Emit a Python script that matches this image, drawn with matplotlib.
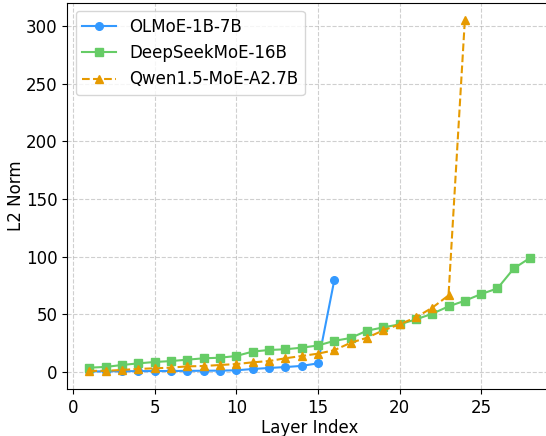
import matplotlib.pyplot as plt

# L2 norm per layer
olmoe_layers = list(range(1, 17))
olmoe_norm = [0.5, 0.6, 0.7, 0.8, 0.8, 0.9, 1.0, 1.1, 1.2, 1.5, 2.6, 3.5, 4.3, 5.3, 7.5, 79.4]

deepseek_layers = list(range(1, 29))
deepseek_norm = [3.8, 4.4, 6.1, 7.5, 8.7, 9.5, 10.7, 11.9, 12.4, 13.9,
                 17.7, 19.1, 19.7, 21.1, 23.0, 27.0, 29.5, 35.8, 38.7, 41.3,
                 45.6, 50.5, 56.9, 61.8, 67.6, 72.5, 89.8, 99.0]

qwen_layers = list(range(1, 25))
qwen_norm = [1.0, 1.0, 1.8, 2.7, 3.2, 3.8, 4.9, 5.2, 6.1, 6.9,
             8.4, 9.5, 11.9, 13.9, 15.9, 18.9, 25.3, 29.7, 36.1, 41.3,
             47.4, 55.7, 66.4, 305.0]

fs = 12

fig = plt.figure(figsize=(5.46, 4.36), dpi=100)
ax = fig.add_axes([0.1233, 0.1078, 0.888, 0.886])

ax.plot(olmoe_layers, olmoe_norm, 'o-', color='#3399ff', lw=1.5, ms=5.5, label='OLMoE-1B-7B')
ax.plot(deepseek_layers, deepseek_norm, 's-', color='#66cc66', lw=1.5, ms=5.5, label='DeepSeekMoE-16B')
ax.plot(qwen_layers, qwen_norm, '^--', color='#e69a00', lw=1.5, ms=6, label='Qwen1.5-MoE-A2.7B')

ax.set_xlabel("Layer Index", fontsize=fs, labelpad=1.5)
ax.set_ylabel("L2 Norm", fontsize=fs, labelpad=1)
ax.tick_params(labelsize=fs)
ax.grid(True, linestyle='--', alpha=0.6)
ax.legend(loc='upper left', fontsize=fs)

fig.savefig("out.png", dpi=100)
